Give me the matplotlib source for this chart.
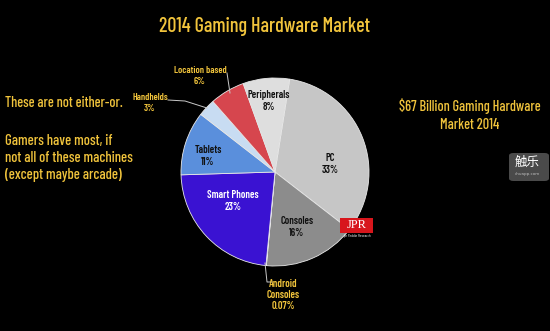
import matplotlib
matplotlib.use("Agg")
import matplotlib.pyplot as plt
from matplotlib.patches import FancyBboxPatch, Rectangle
from matplotlib.lines import Line2D

categories = ["PC", "Consoles", "Android Consoles", "Smart Phones", "Tablets",
              "Handhelds", "Location based", "Peripherals"]
values = [33, 16, 0.07, 23, 11, 3, 6, 8]
pct_labels = ["33%", "16%", "0.07%", "23%", "11%", "3%", "6%", "8%"]
colors = ["#c6c6c6", "#8c8c8c", "#b0b0b0", "#3a12d2", "#5a8fdc",
          "#c8dcf2", "#d6464e", "#dedede"]

W, H = 550, 331
GOLD = "#f1c43c"
FAM = ["Barlow Condensed", "Archivo Narrow", "DejaVu Sans"]

fig = plt.figure(figsize=(W / 100, H / 100), dpi=100, facecolor="black")

def fx(x):
    return x / W

def fy(y):
    return 1 - y / H

cx, cy, R = 275, 172, 94
ax = fig.add_axes([fx(cx - R), fy(cy + R), 2 * R / W, 2 * R / H])
ax.set_facecolor("black")
ax.pie(values, colors=colors, startangle=81, counterclock=False,
       wedgeprops=dict(edgecolor="#e8e8e8", linewidth=0.6))
ax.set_xlim(-1, 1)
ax.set_ylim(-1, 1)
ax.axis("off")

def t(x, y, s, **kw):
    kw.setdefault("family", FAM)
    kw.setdefault("weight", "medium")
    fig.text(fx(x), fy(y), s, **kw)

t(265, 26, "2014 Gaming Hardware Market", color=GOLD, fontsize=14.5,
  ha="center", va="center")
t(5, 103, "These are not either-or.", color=GOLD, fontsize=10.3, ha="left", va="center")
t(5, 158, "Gamers have most, if\nnot all of these machines\n(except maybe arcade)",
  color=GOLD, fontsize=10.5, ha="left", va="center", linespacing=1.25)
t(470, 115, "$67 Billion Gaming Hardware\nMarket 2014", color=GOLD, fontsize=10.3,
  ha="center", va="center", linespacing=1.3)

inside = {
    "PC": (330, 164, "#111111"),
    "Consoles": (297, 227, "#111111"),
    "Smart Phones": (233, 201, "white"),
    "Tablets": (208, 156, "#111111"),
    "Peripherals": (269, 101, "#111111"),
}
for name, (x, y, c) in inside.items():
    i = categories.index(name)
    t(x, y, f"{name}\n{pct_labels[i]}", color=c, fontsize=7.5, ha="center",
      va="center", linespacing=1.15, weight="semibold")

for name, (x, y) in {"Location based": (200, 76), "Handhelds": (150, 103)}.items():
    i = categories.index(name)
    t(x, y, f"{name}\n{pct_labels[i]}", color=GOLD, fontsize=7, ha="center",
      va="center", linespacing=1.15, weight="semibold")
i = categories.index("Android Consoles")
t(283, 295, f"Android\nConsoles\n{pct_labels[i]}", color=GOLD, fontsize=7.5,
  ha="center", va="center", linespacing=1.1, weight="semibold")

def line(xs, ys):
    fig.add_artist(Line2D([fx(x) for x in xs], [fy(y) for y in ys],
                          color="#c8c8c8", lw=0.7))

line([168, 185, 207], [100, 101, 108])
line([227, 230], [73, 93])
line([265, 267, 272], [263, 282, 282])

fig.add_artist(Rectangle((fx(340), fy(233)), 33 / W, 15 / H, facecolor="#d8161c",
                         edgecolor="none", transform=fig.transFigure))
fig.text(fx(356.5), fy(225.5), "JPR", color="white", fontsize=9, family="Liberation Serif",
         ha="center", va="center")
fig.text(fx(357), fy(235.5), "Jon Peddie Research", color="white", fontsize=2,
         ha="center", va="center")

fig.add_artist(FancyBboxPatch((fx(509), fy(181)), 40 / W, 28 / H,
                              boxstyle="round,pad=0,rounding_size=0.008",
                              facecolor="#4a4a4a", edgecolor="none",
                              transform=fig.transFigure))
fig.text(fx(527), fy(162), "触乐", color="white", fontsize=9,
         family=["Noto Sans CJK SC", "DejaVu Sans"], ha="center", va="center")
fig.text(fx(527), fy(174), "chuapp.com", color="#bbbbbb", fontsize=3,
         ha="center", va="center")

fig.savefig("out.png", dpi=100, facecolor="black")
